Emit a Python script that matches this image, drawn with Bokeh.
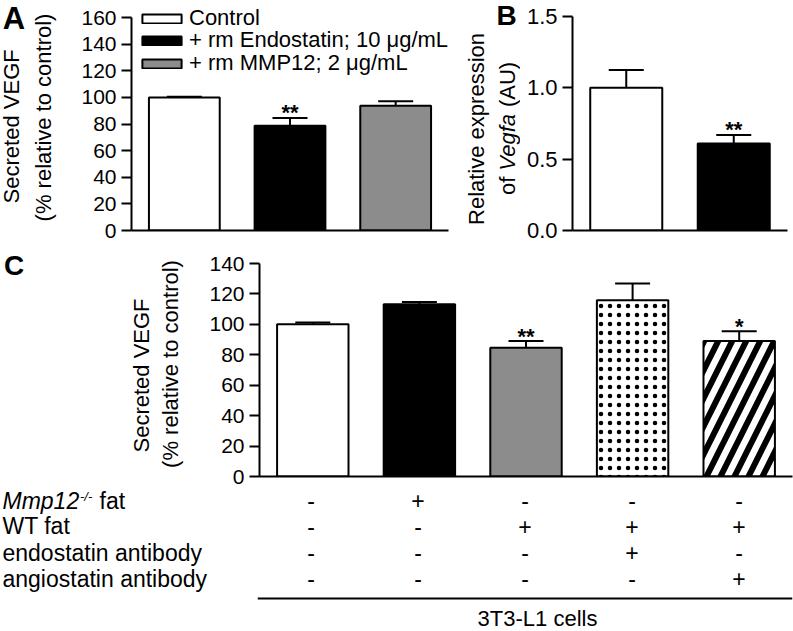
import math
from bokeh.plotting import figure
from bokeh.layouts import column, row
from bokeh.models import (ColumnDataSource, FixedTicker, Legend, LegendItem,
                          Whisker, TeeHead, PrintfTickFormatter, Span)
from bokeh.core.properties import value
from bokeh.embed import file_html
from bokeh.resources import INLINE

FONT = "Liberation Sans"

# ---------------- data ----------------
a_groups = ["Control", "+ rm Endostatin; 10 \u03bcg/mL", "+ rm MMP12; 2 \u03bcg/mL"]
a_means = [100.0, 78.6, 93.8]
a_errs = [0.4, 6.0, 3.2]
a_sig = ["", "**", ""]
a_ticks = [0, 20, 40, 60, 80, 100, 120, 140, 160]
a_ylabel = ["Secreted VEGF", "(% relative to control)"]

b_groups = ["Control", "Endostatin"]
b_means = [1.0, 0.61]
b_errs = [0.125, 0.06]
b_sig = ["", "**"]
b_ticks = [0.0, 0.5, 1.0, 1.5]
b_ylabel = ["Relative expression", "of", "Vegfa", "(AU)"]

c_means = [100.0, 113.2, 84.7, 115.8, 89.0]
c_errs = [1.2, 1.5, 4.3, 11.0, 6.4]
c_sig = ["", "", "**", "", "*"]
c_ticks = [0, 20, 40, 60, 80, 100, 120, 140]
c_ylabel = ["Secreted VEGF", "(% relative to control)"]
c_row_labels = ["fat", "WT fat", "endostatin antibody", "angiostatin antibody"]
c_mmp12 = ["-", "+", "-", "-", "-"]
c_wt = ["-", "-", "+", "+", "+"]
c_endo = ["-", "-", "-", "+", "-"]
c_angio = ["-", "-", "-", "-", "+"]
c_caption = "3T3-L1 cells"

# ---------------- styles ----------------
a_fill = ["white", "black", "#8c8c8c"]
b_fill = ["white", "black"]
c_fill = ["white", "black", "#8c8c8c", "white", "white"]
c_hatch = [" ", " ", " ", ".", "/"]
c_hatch_scale = [10, 10, 10, 9, 28]
c_hatch_weight = [1, 1, 1, 0.5, 6]

HALF_PI = math.pi / 2


def base_fig(w, h, xr, yr, **kw):
    p = figure(width=w, height=h, x_range=xr, y_range=yr, title=None,
               output_backend="svg", toolbar_location=None, **kw)
    p.outline_line_color = None
    p.background_fill_color = "white"
    p.border_fill_color = "white"
    p.grid.visible = False
    return p


def text_fig(w, h, x0, top=0, bottom=0):
    """Blank figure holding texts; its ranges are in pixels (y measured up from canvas bottom)."""
    return base_fig(w, h, (x0, x0 + w), (bottom, h - top), x_axis_type=None,
                    y_axis_type=None, min_border_left=0, min_border_right=0,
                    min_border_top=top, min_border_bottom=bottom)


def txt(p, x, y, text, size, style="normal", angle=0.0, align="center",
        baseline="middle"):
    p.text(x=[x], y=[y], text=[text], angle=angle, text_font=value(FONT),
           text_font_size=f"{size}px", text_font_style=style,
           text_align=align, text_baseline=baseline, text_color="black")


def bar_panel(w, h, mb, n, yr, ticks, tick_font, bounds, fmt=None,
              ylabel=None, label_standoff=20):
    l, r, t, b = mb
    p = base_fig(w, h, (0, n), yr, min_border_left=l, min_border_right=r,
                 min_border_top=t, min_border_bottom=b)
    ya = p.yaxis[0]
    ya.ticker = FixedTicker(ticks=ticks)
    ya.bounds = bounds
    if fmt:
        ya.formatter = PrintfTickFormatter(format=fmt)
    ya.major_tick_out = 10
    ya.major_tick_in = 0
    ya.minor_tick_line_color = None
    ya.axis_line_width = 2
    ya.major_tick_line_width = 2
    ya.major_label_standoff = 5
    ya.major_label_text_font = FONT
    ya.major_label_text_font_size = f"{tick_font}px"
    ya.major_label_text_color = "black"
    if ylabel:
        ya.axis_label = ylabel
        ya.axis_label_text_font = FONT
        ya.axis_label_text_font_size = "22px"
        ya.axis_label_text_font_style = "normal"
        ya.axis_label_text_color = "black"
        ya.axis_label_standoff = label_standoff
    xa = p.xaxis[0]
    xa.ticker = FixedTicker(ticks=[])
    xa.major_label_text_font_size = "0px"
    xa.major_label_standoff = 0
    xa.major_tick_out = 0
    xa.major_tick_in = 0
    xa.major_tick_line_color = None
    xa.minor_tick_line_color = None
    xa.axis_line_width = 2
    return p


def bars(p, means, errs, sig, fill, extra=None):
    n = len(means)
    d = dict(x=[i + 0.5 for i in range(n)], mean=means,
             upper=[m + e for m, e in zip(means, errs)], sig=sig, fill=fill)
    kw = {}
    if extra:
        d.update(extra)
        kw = dict(hatch_pattern="hatch", hatch_scale="hs", hatch_weight="hw",
                  hatch_color="black")
    src = ColumnDataSource(d)
    r = p.vbar(x="x", top="mean", bottom=0, width=0.67, source=src,
               fill_color="fill", line_color="black", line_width=2, **kw)
    p.add_layout(Whisker(source=src, base="x", lower="mean", upper="upper",
                         dimension="height", line_color="black", line_width=2,
                         upper_head=TeeHead(size=35, line_color="black", line_width=2),
                         lower_head=None))
    p.text(x="x", y="upper", text="sig", source=src, text_font=value(FONT),
           text_font_size="22px", text_font_style="bold", text_align="center",
           text_baseline="alphabetic", text_color="black", y_offset=-5)
    return r


# ---------------- top row (page y 0..247), frames 4..230 ----------------
TOP_H, T_TOP, T_BOT = 247, 4, 17
tA = text_fig(28, TOP_H, 0, 0, T_BOT)
txt(tA, 13.5, TOP_H - 14.5, "A", 31, style="bold")
txt(tA, 10.5, TOP_H - 124, a_ylabel[0], 22, angle=HALF_PI)

pA = bar_panel(427, TOP_H, (99, 7, T_TOP, T_BOT), 3, (0, 169.77), a_ticks, 21,
               bounds=(0, 160), ylabel=a_ylabel[1], label_standoff=22)
rA = bars(pA, a_means, a_errs, a_sig, a_fill)
# one legend entry per row so that the rows sit as tightly as in the original
for i, (g, vy) in enumerate(zip(a_groups, [199, 177, 154])):
    pA.add_layout(Legend(items=[LegendItem(label=value(g), renderers=[rA], index=i)],
                         location=(6, vy), glyph_width=49, glyph_height=11,
                         label_text_font=FONT, label_text_font_size="22px",
                         label_text_color="black", label_standoff=3, spacing=0,
                         padding=0, label_height=22, border_line_color=None,
                         background_fill_alpha=0))

tB = text_fig(65, TOP_H, 455, T_TOP, T_BOT)
txt(tB, 506, TOP_H - 15, "B", 28, style="bold")
txt(tB, 476.3, TOP_H - 128.5, b_ylabel[0], 22, angle=HALF_PI)
txt(tB, 506.5, TOP_H - 194.6, b_ylabel[1], 22, angle=HALF_PI, align="left")
txt(tB, 506.5, TOP_H - 170.2, b_ylabel[2], 22, style="italic", angle=HALF_PI, align="left")
txt(tB, 506.5, TOP_H - 106.6, b_ylabel[3], 22, angle=HALF_PI, align="left")

pB = bar_panel(273, TOP_H, (52, 6, T_TOP, T_BOT), 2, (0, 1.5841), b_ticks, 22,
               bounds=(0, 1.5), fmt="%.1f")
bars(pB, b_means, b_errs, b_sig, b_fill)

# ---------------- panel C (page y 247..488), frame 251..476 ----------------
C_TOP, C_H, C_T, C_B = 247, 241, 4, 12
cy = C_TOP + C_H
tC = text_fig(155, C_H, 0, C_T, C_B)
txt(tC, 13.5, cy - 265, "C", 28, style="bold")
txt(tC, 140.5, cy - 375, c_ylabel[0], 22, angle=HALF_PI)

pC = bar_panel(638, C_H, (102, 1, C_T, C_B), 5, (0, 147.89), c_ticks, 21,
               bounds=(0, 140), ylabel=c_ylabel[1], label_standoff=23)
bars(pC, c_means, c_errs, c_sig, c_fill,
     extra=dict(hatch=c_hatch, hs=c_hatch_scale, hw=c_hatch_weight))

# ---------------- table (page y 488..631) ----------------
T_H = 143
ty = 488 + T_H
row_y = [500, 525.5, 552, 578]
tT = text_fig(257, T_H, 0)
txt(tT, 2, ty - row_y[0], "Mmp12", 23, style="italic", align="left")
txt(tT, 79.5, ty - 495.5, "-/-", 13, style="italic", align="left")
txt(tT, 99, ty - row_y[0], c_row_labels[0], 23, align="left")
for k in range(1, 4):
    txt(tT, 2, ty - row_y[k], c_row_labels[k], 23, align="left")

pT = base_fig(536, T_H, (0, 5), (0, T_H), x_axis_type=None, y_axis_type=None,
              min_border_left=0, min_border_right=1, min_border_top=0,
              min_border_bottom=0)
sx, sy, st = [], [], []
for k, signs in enumerate([c_mmp12, c_wt, c_endo, c_angio]):
    for i, s in enumerate(signs):
        sx.append(i + 0.5)
        sy.append(ty - row_y[k])
        st.append(s)
pT.text(x=sx, y=sy, text=st, text_font=value(FONT), text_font_size="23px",
        text_align="center", text_baseline="middle", text_color="black")
pT.add_layout(Span(location=ty - 598, dimension="width", line_color="black",
                   line_width=2))
txt(pT, (537 - 257) / 107.0, ty - 618, c_caption, 22)

layout = column(row(tA, pA, tB, pB), row(tC, pC), row(tT, pT))
open("out.html", "w", encoding="utf-8").write(file_html(layout, INLINE))
